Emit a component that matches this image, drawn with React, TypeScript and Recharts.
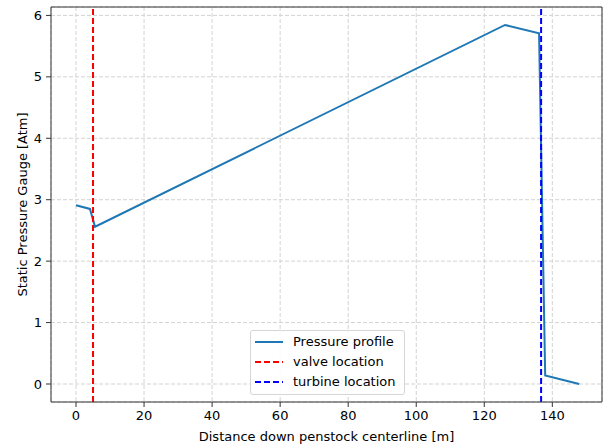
import React from 'react';
import { LineChart, Line, XAxis, YAxis, CartesianGrid, ReferenceLine } from 'recharts';

const distances = [0, 4.1, 5.6, 126.1, 136.1, 137.9, 147.9];
const pressures = [2.91, 2.85, 2.56, 5.845, 5.71, 0.14, 0.0];
const xTicks = [0, 20, 40, 60, 80, 100, 120, 140];
const yTicks = [0, 1, 2, 3, 4, 5, 6];
const valveLocation = 5;
const turbineLocation = 136.7;
const legendLabels = ['Pressure profile', 'valve location', 'turbine location'];

const X_DOMAIN: [number, number] = [-7.35, 154.6];
const Y_DOMAIN: [number, number] = [-0.293, 6.137];

const data = distances.map((d, i) => ({ x: d, p: pressures[i] }));

const FONT = 'DejaVu Sans, sans-serif';
const tickStyle = { fontSize: 13, fill: '#000', fontFamily: FONT };

const legendItems = [
  { label: legendLabels[0], color: '#1f77b4', dash: undefined as string | undefined },
  { label: legendLabels[1], color: '#ff0000', dash: '6 3' },
  { label: legendLabels[2], color: '#0000ff', dash: '6 3' },
];

export default function App() {
  return (
    <div style={{ position: 'absolute', left: 0, top: 0, width: 610, height: 446, background: '#fff' }}>
      <LineChart width={610} height={446} data={data} margin={{ top: 7, right: 8, left: 0, bottom: 0 }}>
        <CartesianGrid stroke="#d3d3d3" strokeDasharray="4 2" />
        <XAxis
          dataKey="x"
          type="number"
          domain={X_DOMAIN}
          ticks={xTicks}
          allowDataOverflow
          height={44}
          tickSize={5}
          tickMargin={4}
          tick={tickStyle}
          stroke="#333"
          tickLine={{ stroke: '#333' }}
          label={{ value: 'Distance down penstock centerline [m]', position: 'insideBottom', offset: 5, style: { fontSize: 13, fill: '#000', fontFamily: FONT } }}
        />
        <YAxis
          type="number"
          domain={Y_DOMAIN}
          ticks={yTicks}
          allowDataOverflow
          width={51}
          tickSize={5}
          tickMargin={4}
          tick={tickStyle}
          stroke="#333"
          tickLine={{ stroke: '#333' }}
          label={{ value: 'Static Pressure Gauge [Atm]', angle: -90, position: 'center', dx: -3, style: { fontSize: 13, fill: '#000', fontFamily: FONT, textAnchor: 'middle' } }}
        />
        <ReferenceLine y={Y_DOMAIN[1]} stroke="#333" />
        <ReferenceLine x={X_DOMAIN[1]} stroke="#333" />
        <Line
          type="linear"
          dataKey="p"
          stroke="#1f77b4"
          strokeWidth={2}
          dot={false}
          isAnimationActive={false}
        />
        <ReferenceLine x={valveLocation} stroke="#ff0000" strokeWidth={2} strokeDasharray="6 3" />
        <ReferenceLine x={turbineLocation} stroke="#0000ff" strokeWidth={2} strokeDasharray="6 3" />
      </LineChart>
      <div
        style={{
          position: 'absolute',
          left: 250,
          top: 330,
          width: 155,
          height: 65,
          boxSizing: 'border-box',
          border: '1px solid #d6d6d6',
          borderRadius: 3,
          background: 'rgba(255,255,255,0.85)',
          fontFamily: FONT,
          fontSize: 13,
          color: '#000',
          paddingTop: 1,
        }}
      >
        {legendItems.map((it) => (
          <div key={it.label} style={{ display: 'flex', alignItems: 'center', height: 20, lineHeight: '20px' }}>
            <svg width={28} height={4} style={{ marginLeft: 4, marginRight: 10 }}>
              <line x1={0} y1={2} x2={28} y2={2} stroke={it.color} strokeWidth={2} strokeDasharray={it.dash} />
            </svg>
            <span style={{ whiteSpace: 'nowrap' }}>{it.label}</span>
          </div>
        ))}
      </div>
    </div>
  );
}
